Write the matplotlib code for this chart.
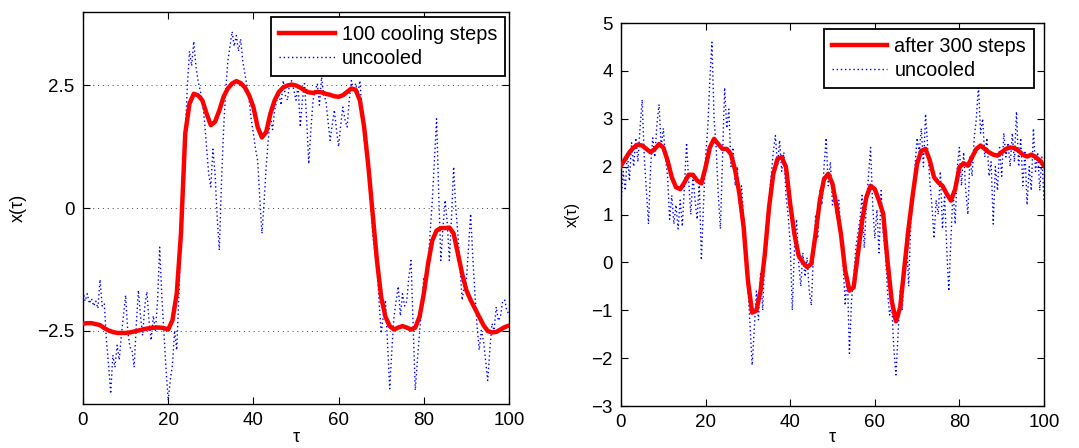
import numpy as np
import matplotlib
matplotlib.use("Agg")
import matplotlib.pyplot as plt

plt.rcParams['font.family'] = ['Liberation Sans', 'DejaVu Sans']

# ---------------- data ----------------
tau_cool = list(range(0, 101))

left_cooled = [
    -2.36, -2.35, -2.35, -2.37, -2.39, -2.45, -2.50, -2.53, -2.55, -2.55,
    -2.55, -2.54, -2.52, -2.50, -2.48, -2.46, -2.45, -2.44, -2.44, -2.45,
    -2.48, -2.29, -1.75, -0.52, 1.52, 2.13, 2.33, 2.30, 2.20, 1.93,
    1.69, 1.76, 1.99, 2.27, 2.44, 2.54, 2.59, 2.55, 2.46, 2.30,
    2.06, 1.65, 1.44, 1.55, 1.93, 2.20, 2.37, 2.46, 2.50, 2.52,
    2.50, 2.46, 2.40, 2.36, 2.35, 2.37, 2.36, 2.33, 2.31, 2.28,
    2.27, 2.30, 2.37, 2.44, 2.41, 2.20, 1.65, 0.84, -0.12, -1.07,
    -1.82, -2.22, -2.41, -2.48, -2.44, -2.41, -2.44, -2.48, -2.44, -2.22,
    -1.75, -1.14, -0.66, -0.46, -0.41, -0.41, -0.40, -0.52, -0.93, -1.34,
    -1.68, -1.88, -2.05, -2.22, -2.39, -2.51, -2.54, -2.53, -2.48, -2.43,
    -2.40,
]

tau_raw = [i * 0.5 for i in range(201)]

left_uncooled = [
    -1.70, -1.90, -1.75, -1.95, -1.85, -2.00, -1.90, -2.05, -1.46, -2.00,
    -1.95, -2.70, -3.20, -3.79, -3.00, -3.25, -2.80, -3.10, -2.60, -2.20,
    -1.78, -2.50, -2.84, -2.90, -3.25, -2.40, -1.68, -2.20, -2.60, -2.00,
    -1.71, -2.30, -2.70, -2.20, -2.50, -1.90, -0.80, -1.80, -2.56, -3.30,
    -3.93, -3.50, -3.20, -2.50, -2.90, -1.80, -0.50, 0.60, 1.50, 2.50,
    3.20, 2.90, 3.40, 2.90, 2.60, 2.40, 2.20, 1.80, 1.25, 0.70,
    0.43, 1.20, 0.70, -0.20, -0.86, 0.50, 1.60, 2.40, 3.00, 3.30,
    3.60, 3.30, 3.52, 3.20, 3.45, 3.00, 2.74, 2.50, 2.20, 1.80,
    1.52, 1.20, 0.97, 0.20, -0.52, 0.10, 0.84, 1.40, 1.86, 1.60,
    2.00, 2.20, 2.33, 2.10, 2.60, 2.30, 2.20, 2.55, 2.60, 2.40,
    2.20, 2.50, 1.65, 2.20, 2.54, 1.80, 0.90, 1.60, 2.20, 2.40,
    2.54, 2.10, 2.67, 2.30, 2.20, 1.80, 1.38, 1.70, 2.00, 1.60,
    1.25, 1.70, 2.06, 1.80, 1.65, 2.20, 2.60, 2.40, 2.54, 2.30,
    2.60, 2.00, 1.38, 1.10, 0.84, 0.20, -0.52, -0.90, -1.20, -1.90,
    -2.56, -2.20, -1.88, -2.80, -3.69, -2.90, -2.22, -1.90, -1.60, -2.20,
    -1.75, -2.00, -1.90, -1.40, -1.07, -2.40, -3.72, -3.10, -2.56, -2.00,
    -1.41, -1.60, -1.14, -0.50, 0.16, 1.00, 1.82, 0.30, -1.07, -0.40,
    0.16, -0.30, -1.07, -0.20, 0.84, 0.00, -0.52, -1.20, -1.88, -1.60,
    -1.48, -0.80, -0.12, -1.00, -1.75, -2.40, -2.90, -2.50, -2.70, -3.10,
    -3.52, -2.90, -2.36, -2.50, -2.02, -2.30, -2.22, -1.90, -1.88, -2.10,
    -2.16,
]

right_cooled = [
    2.02, 2.16, 2.30, 2.40, 2.46, 2.44, 2.37, 2.30, 2.37, 2.47,
    2.40, 2.13, 1.78, 1.57, 1.53, 1.67, 1.83, 1.83, 1.71, 1.65,
    1.99, 2.40, 2.58, 2.47, 2.37, 2.37, 2.26, 1.92, 1.43, 0.73,
    -0.38, -1.05, -1.01, -0.59, 0.17, 1.15, 1.85, 2.16, 2.20, 1.99,
    1.22, 0.59, 0.14, 0.00, -0.10, -0.03, 0.59, 1.29, 1.74, 1.85,
    1.64, 1.15, 0.59, -0.17, -0.59, -0.52, 0.17, 0.87, 1.36, 1.60,
    1.53, 1.29, 1.01, 0.03, -0.80, -1.23, -0.94, -0.10, 0.73, 1.43,
    2.06, 2.33, 2.37, 2.13, 1.78, 1.67, 1.60, 1.43, 1.29, 1.53,
    1.99, 2.07, 2.02, 2.20, 2.37, 2.44, 2.37, 2.30, 2.25, 2.23,
    2.30, 2.37, 2.40, 2.39, 2.33, 2.25, 2.21, 2.25, 2.20, 2.13,
    2.02,
]

right_uncooled = [
    1.20, 1.90, 1.50, 2.30, 1.70, 2.50, 2.00, 2.60, 2.10, 2.80,
    3.40, 2.20, 1.50, 0.80, 2.00, 2.60, 2.20, 2.90, 3.30, 2.40,
    2.80, 2.20, 1.80, 0.90, 1.40, 0.80, 1.20, 0.70, 1.30, 0.75,
    1.60, 2.50, 1.70, 1.00, 1.80, 1.30, 0.90, 1.70, 0.05, 1.20,
    2.20, 2.80, 3.80, 4.60, 3.00, 2.40, 1.40, 0.70, 2.20, 3.65,
    2.80, 3.20, 2.00, 2.40, 1.60, 2.00, 1.20, 1.60, 0.90, 0.30,
    -0.50, -1.30, -2.15, -1.40, -0.60, -1.20, -0.20, -1.00, 0.20, 0.90,
    1.30, 1.80, 2.30, 2.65, 2.00, 2.55, 1.90, 2.30, 1.40, 1.00,
    0.40, -1.00, 0.30, 0.90, 0.00, -0.50, 0.20, -0.30, 0.10, -0.60,
    -0.90, 0.20, 1.00, 0.50, 1.50, 1.20, 2.00, 2.60, 1.60, 2.10,
    1.20, 1.50, 0.90, 1.30, 0.50, 0.00, -0.90, -0.20, -1.90, -0.80,
    -0.30, 0.30, 0.60, 0.90, 1.40, 0.30, 1.20, 1.80, 2.40, 1.20,
    0.50, 1.10, 0.20, 1.50, 0.60, 0.20, -0.60, -1.10, -0.90, -1.80,
    -2.35, -1.50, -0.60, -1.00, 0.00, 0.60, -0.50, 0.80, 1.30, 2.00,
    2.60, 2.30, 2.80, 2.00, 3.10, 2.40, 1.70, 1.20, 0.50, 1.30,
    1.00, 1.90, 0.70, 1.40, 0.30, -0.60, 0.50, 1.50, 0.80, 2.00,
    2.40, 1.60, 2.30, 1.50, 1.00, 2.20, 1.80, 2.60, 3.00, 3.70,
    2.70, 3.00, 2.20, 2.60, 1.80, 2.10, 0.80, 2.00, 1.50, 2.40,
    1.80, 2.70, 2.20, 2.50, 2.00, 2.70, 2.10, 3.15, 2.00, 2.60,
    1.60, 2.30, 1.20, 2.00, 1.50, 2.80, 1.90, 2.30, 1.50, 2.20,
    1.30,
]

x_ticks = [0, 20, 40, 60, 80, 100]
left_yticks = [-2.5, 0, 2.5]
left_yticklabels = ['\u22122.5', '0', '2.5']
right_yticks = [-3, -2, -1, 0, 1, 2, 3, 4, 5]
right_yticklabels = ['\u22123', '\u22122', '\u22121', '0', '1', '2', '3', '4', '5']

# ---------------- figure ----------------
W, H = 1079, 448
fig = plt.figure(figsize=(W / 100, H / 100), dpi=100)

ax1 = fig.add_axes([83 / W, 1 - 404 / H, (509 - 83) / W, (404 - 12) / H])
ax2 = fig.add_axes([621 / W, 1 - 406 / H, (1044 - 621) / W, (406 - 23) / H])

RED = '#ff0000'
BLUE = '#0000ff'
TICKFS = 13.5
LEGFS = 14.3

def style(ax):
    ax.tick_params(direction='in', length=5, width=0.8, top=True, right=True,
                   labelsize=TICKFS, pad=6)
    for sp in ax.spines.values():
        sp.set_linewidth(1.0)
        sp.set_color('black')
    ax.set_xlim(0, 100)
    ax.set_xticks(x_ticks)

def add_legend(ax, anchor_px):
    h, l = ax.get_legend_handles_labels()
    leg = ax.legend(h[::-1], l[::-1], loc='upper right',
                    bbox_to_anchor=(anchor_px[0] / W, 1 - anchor_px[1] / H),
                    bbox_transform=fig.transFigure, fontsize=LEGFS,
                    frameon=True, fancybox=False, framealpha=1,
                    edgecolor='black', handlelength=2.8, borderpad=0.4,
                    labelspacing=0.25, handletextpad=0.35, borderaxespad=0.0)
    leg.get_frame().set_linewidth(1.3)
    return leg

# left
ax1.plot(tau_raw, left_uncooled, linestyle=(0, (1, 2)), color=BLUE, lw=1.0,
         label='uncooled', zorder=2)
ax1.plot(tau_cool, left_cooled, '-', color=RED, lw=3.2, label='100 cooling steps',
         zorder=3)
style(ax1)
ax1.set_ylim(-4, 4)
ax1.set_yticks(left_yticks)
ax1.set_yticklabels(left_yticklabels)
ax1.yaxis.grid(True, linestyle=(0, (1, 4)), color='#444444', lw=0.7)
ax1.set_axisbelow(True)
ax1.set_ylabel('x(\u03c4)', fontsize=13, labelpad=8)
ax1.set_xlabel('\u03c4', fontsize=13, labelpad=0)
add_legend(ax1, (505, 17))

# right
ax2.plot(tau_raw, right_uncooled, linestyle=(0, (1, 2)), color=BLUE, lw=1.0,
         label='uncooled', zorder=2)
ax2.plot(tau_cool, right_cooled, '-', color=RED, lw=3.2, label='after 300 steps',
         zorder=3)
style(ax2)
ax2.set_ylim(-3, 5)
ax2.set_yticks(right_yticks)
ax2.set_yticklabels(right_yticklabels)
ax2.set_ylabel('x(\u03c4)', fontsize=11.5, labelpad=8)
ax2.set_xlabel('\u03c4', fontsize=13, labelpad=-2)
add_legend(ax2, (1034, 29))

fig.savefig('out.png', dpi=100)
